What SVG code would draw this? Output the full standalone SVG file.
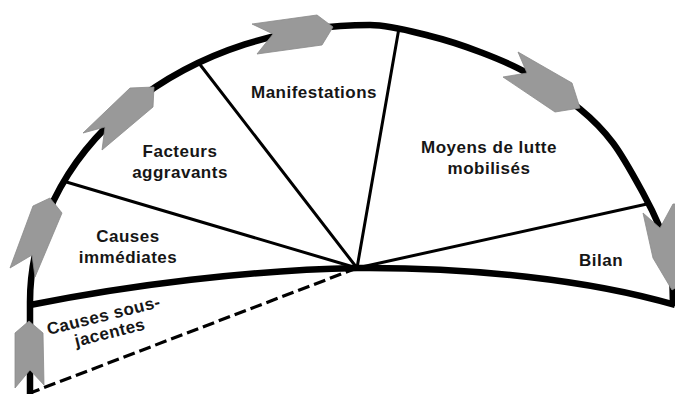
<svg xmlns="http://www.w3.org/2000/svg" width="675" height="394" viewBox="0 0 675 394">
<style>
.lbl{font-family:"Liberation Sans",Arial,sans-serif;font-weight:bold;font-size:17px;letter-spacing:0.5px;fill:#161616;text-anchor:middle}
.ray{stroke:#000;stroke-width:3;fill:none;stroke-linecap:round}
.thick{stroke:#000;stroke-width:6.5;fill:none;stroke-linejoin:round}
.arr{fill:#999;stroke:#8a8a8a;stroke-width:0.8;stroke-linejoin:round}
</style>
<rect width="675" height="394" fill="#fff"/>
<g id="connectors">
<line class="ray" x1="357" y1="268" x2="63" y2="181"/>
<line class="ray" x1="357" y1="268" x2="198" y2="62"/>
<line class="ray" x1="357" y1="268" x2="399" y2="28"/>
<line class="ray" x1="357" y1="268" x2="647" y2="204"/>
<line x1="357" y1="268" x2="30" y2="393" stroke="#000" stroke-width="3.2" stroke-dasharray="12 5"/>
<path class="thick" stroke-width="7" d="M30,305 C130,285 250,270 357,268 C470,267 590,280 675,305"/>
<path class="thick" d="M30,394 L30,302 A340 277 0 0 1 370 25 C390,25 411.7,31.5 430,36 C448.3,40.5 463.8,45.8 480,52 C496.2,58.2 510.3,63.5 527,73 C543.7,82.5 565.7,97.3 580,109 C594.3,120.7 602.5,129 613,143 C623.5,157 635.2,178.8 643,193 C650.8,207.2 655.2,216.5 660,228 C664.8,239.5 670,255 672,262 L673,306"/>
</g>
<g id="arrow1"><polygon class="arr" points="252,24 317,15 333,27 322,45 257,54 273,34"/></g>
<g id="arrow2"><polygon class="arr" points="83,133 130,88 154,87 153,107 102,150 105,127"/></g>
<g id="arrow3"><polygon class="arr" points="10,268 33,206 50,198 62,213 35,277 32,255"/></g>
<g id="arrow4"><polygon class="arr" points="15,388 15,333 29,321 43,333 44,385 30,370"/></g>
<g id="arrow5"><polygon class="arr" points="518,52 572,83 580,108 555,112 503,77 527,73"/></g>
<g id="arrow6"><polygon class="arr" points="643,213 660,228 673,204 680,204 680,285 672,290 653,258"/></g>
<g id="node-facteurs"><text class="lbl" x="180" y="157">Facteurs</text><text class="lbl" x="180" y="178">aggravants</text></g>
<g id="node-manifestations"><text class="lbl" x="314" y="98">Manifestations</text></g>
<g id="node-causes-immediates"><text class="lbl" x="128" y="242">Causes</text><text class="lbl" x="128" y="263">immédiates</text></g>
<g id="node-moyens"><text class="lbl" x="489" y="153">Moyens de lutte</text><text class="lbl" x="489" y="174">mobilisés</text></g>
<g id="node-bilan"><text class="lbl" x="601" y="266">Bilan</text></g>
<g id="node-causes-sous-jacentes" transform="rotate(-14 105 321)"><text class="lbl" x="105" y="321">Causes sous-</text><text class="lbl" x="107" y="339">jacentes</text></g>
</svg>
